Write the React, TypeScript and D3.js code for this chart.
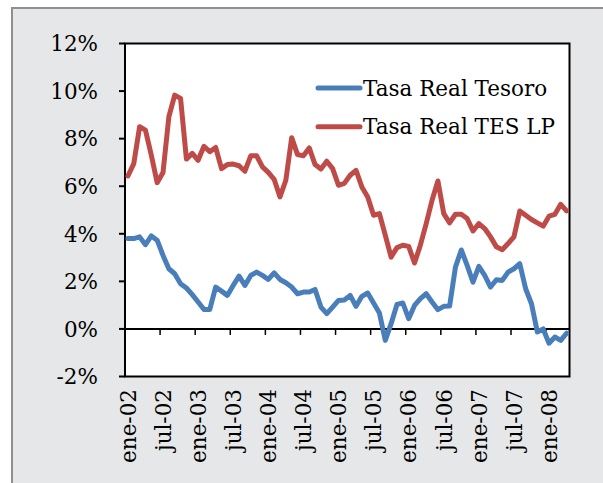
import * as d3 from "d3";

// Spanish month abbreviations, series runs ene-02 .. abr-08
const monthNames = ["ene", "feb", "mar", "abr", "may", "jun", "jul", "ago", "sep", "oct", "nov", "dic"];
const startYear = 2002;
const monthCount = 76;

const tasaTesoro = [
  3.8, 3.8, 3.87, 3.54, 3.91, 3.73, 3.09, 2.53, 2.32, 1.9, 1.72, 1.44,
  1.13, 0.82, 0.82, 1.76, 1.59, 1.41, 1.83, 2.22, 1.83, 2.25, 2.39, 2.25,
  2.08, 2.36, 2.08, 1.94, 1.76, 1.48, 1.55, 1.55, 1.66, 0.92, 0.64, 0.92,
  1.2, 1.22, 1.41, 0.95, 1.37, 1.51, 1.09, 0.67, -0.48, 0.22, 1.03, 1.09,
  0.43, 0.99, 1.27, 1.48, 1.13, 0.81, 0.95, 0.96, 2.6, 3.32, 2.67, 1.97,
  2.63, 2.25, 1.76, 2.07, 2.04, 2.39, 2.53, 2.74, 1.69, 1.06, -0.13, 0.0,
  -0.6, -0.34, -0.48, -0.18,
];

const tasaTesLP = [
  6.43, 6.95, 8.5, 8.36, 7.3, 6.15, 6.58, 8.92, 9.83, 9.69, 7.14, 7.38,
  7.09, 7.68, 7.45, 7.63, 6.74, 6.91, 6.93, 6.86, 6.63, 7.28, 7.28, 6.81,
  6.58, 6.29, 5.55, 6.25, 8.04, 7.33, 7.28, 7.61, 6.91, 6.72, 7.05, 6.74,
  6.04, 6.12, 6.46, 6.67, 5.97, 5.55, 4.78, 4.85, 3.94, 3.02, 3.42, 3.52,
  3.47, 2.77, 3.52, 4.43, 5.41, 6.22, 4.85, 4.46, 4.82, 4.82, 4.64, 4.12,
  4.43, 4.22, 3.87, 3.45, 3.33, 3.59, 3.87, 4.96, 4.78, 4.6, 4.46, 4.32,
  4.74, 4.82, 5.24, 4.96,
];

const yTicks = [-2, 0, 2, 4, 6, 8, 10, 12];
const seriesNames = ["Tasa Real Tesoro", "Tasa Real TES LP"];
const seriesColors = ["#4a7ebb", "#be4b48"];

const categories = d3.range(monthCount).map((i) => {
  const yr = startYear + Math.floor(i / 12);
  return `${monthNames[i % 12]}-${String(yr % 100).padStart(2, "0")}`;
});

export default function App() {
  const width = 603;
  const height = 483;
  const plot = { left: 125, right: 569.5, top: 43.5, bottom: 376.5 };
  const font = "'DejaVu Serif', serif";
  const fs = 21.5;

  const x = d3.scaleBand<string>().domain(categories).range([plot.left, plot.right]).padding(0);
  const y = d3.scaleLinear().domain([-2, 12]).range([plot.bottom, plot.top]);
  const cx = (i: number) => (x(categories[i]) as number) + x.bandwidth() / 2;

  const line = d3
    .line<number>()
    .x((_, i) => cx(i))
    .y((d) => y(d));

  const labelIdx = d3.range(0, monthCount, 6);
  const tickIdx = labelIdx.filter((i) => i > 0);

  return (
    <svg width={width} height={height} style={{ position: "absolute", left: 0, top: 0 }}>
      {/* chart area */}
      <rect x={12} y={8} width={width} height={height} fill="#e6e7e8" stroke="#8f8f8f" strokeWidth={2} />

      {/* plot area */}
      <rect
        x={plot.left}
        y={plot.top}
        width={plot.right - plot.left}
        height={plot.bottom - plot.top}
        fill="#fff"
        stroke="#000"
        strokeWidth={2}
      />

      {/* y axis ticks + labels */}
      {yTicks.map((t) => (
        <g key={t}>
          <line x1={plot.left - 6} x2={plot.left} y1={y(t)} y2={y(t)} stroke="#000" strokeWidth={2} />
          <text
            x={98}
            y={y(t)}
            dy="0.36em"
            textAnchor="end"
            fontFamily={font}
            fontSize={fs}
            fill="#000"
          >
            {t}%
          </text>
        </g>
      ))}

      {/* zero line with ticks */}
      <line x1={plot.left} x2={plot.right} y1={y(0)} y2={y(0)} stroke="#000" strokeWidth={2} />
      {tickIdx.map((i) => {
        const tx = x(categories[i]) as number;
        return <line key={i} x1={tx} x2={tx} y1={y(0)} y2={y(0) + 6} stroke="#000" strokeWidth={1.5} />;
      })}

      {/* category labels */}
      {labelIdx.map((i) => (
        <text
          key={i}
          transform={`translate(${cx(i)},389) rotate(-90)`}
          textAnchor="end"
          dy="0.36em"
          fontFamily={font}
          fontSize={fs}
          fill="#000"
        >
          {categories[i]}
        </text>
      ))}

      {/* series */}
      {[tasaTesoro, tasaTesLP].map((s, k) => (
        <path
          key={k}
          d={line(s) ?? ""}
          fill="none"
          stroke={seriesColors[k]}
          strokeWidth={5}
          strokeLinejoin="round"
          strokeLinecap="round"
        />
      ))}

      {/* legend */}
      {seriesNames.map((name, k) => {
        const ly = 88 + k * 38.7;
        return (
          <g key={name}>
            <line x1={318} x2={360} y1={ly} y2={ly} stroke={seriesColors[k]} strokeWidth={5} strokeLinecap="round" />
            <text x={363} y={ly} dy="0.36em" fontFamily={font} fontSize={fs} fill="#000">
              {name}
            </text>
          </g>
        );
      })}
    </svg>
  );
}
